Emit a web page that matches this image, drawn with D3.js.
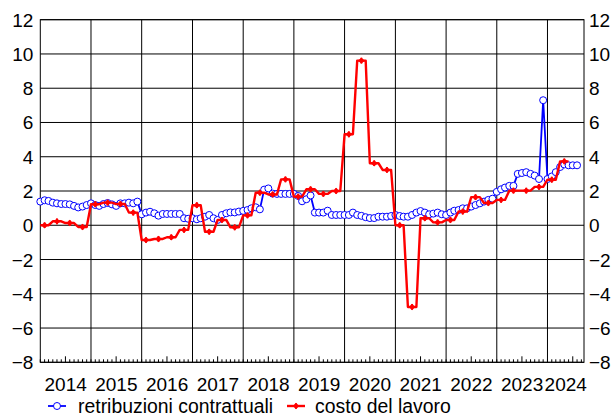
<!DOCTYPE html>
<html>
<head>
<meta charset="utf-8">
<script src="https://cdn.jsdelivr.net/npm/d3@7"></script>
<style>
  body { margin: 0; background: #fff; }
  svg { display: block; font-family: "Liberation Sans", Arial, sans-serif; }
</style>
</head>
<body>
<script>
// monthly series, Jan 2014 .. Aug 2024
var retribuzioni = [
  1.38, 1.46, 1.42, 1.32, 1.28, 1.24, 1.24, 1.22, 1.13, 1.04, 1.09, 1.18,   // 2014
  1.28, 1.18, 1.13, 1.24, 1.30, 1.22, 1.13, 1.28, 1.28, 1.32, 1.28, 1.38,   // 2015
  0.64, 0.74, 0.79, 0.70, 0.56, 0.66, 0.66, 0.66, 0.66, 0.66, 0.41, 0.38,   // 2016
  0.41, 0.35, 0.41, 0.50, 0.60, 0.41, 0.31, 0.60, 0.70, 0.75, 0.75, 0.80,   // 2017
  0.84, 0.89, 0.99, 1.05, 0.93, 2.08, 2.15, 1.85, 1.83, 1.83, 1.83, 1.83,   // 2018
  1.83, 1.71, 1.40, 1.52, 1.74, 0.74, 0.74, 0.74, 0.85, 0.60, 0.60, 0.60,   // 2019
  0.60, 0.60, 0.74, 0.60, 0.55, 0.47, 0.42, 0.42, 0.50, 0.50, 0.50, 0.54,   // 2020
  0.60, 0.54, 0.50, 0.50, 0.60, 0.74, 0.83, 0.74, 0.64, 0.68, 0.74, 0.64,   // 2021
  0.60, 0.74, 0.85, 0.89, 0.99, 0.99, 1.09, 1.18, 1.28, 1.38, 1.48, 1.55,   // 2022
  1.95, 2.10, 2.20, 2.30, 2.30, 3.00, 3.05, 3.10, 3.00, 2.90, 2.70, 7.30,   // 2023
  2.70, 2.85, 3.10, 3.40, 3.55, 3.50, 3.50, 3.50                            // 2024
];

// quarterly series, Q1 2014 .. Q2 2024 (each value covers its three months)
var costoLavoro = [
  0.00, 0.23, 0.13, -0.10,
  1.23, 1.32, 1.24, 0.74,
  -0.86, -0.80, -0.70, -0.27,
  1.17, -0.38, 0.31, -0.12,
  0.58, 1.90, 1.80, 2.68,
  1.67, 2.10, 1.83, 2.00,
  5.31, 9.61, 3.62, 3.23,
  0.00, -4.77, 0.41, 0.17,
  0.31, 0.80, 1.64, 1.30,
  1.48, 2.02, 2.02, 2.24,
  2.66, 3.73
];

var yTicks = [-8, -6, -4, -2, 0, 2, 4, 6, 8, 10, 12];
var yearLabels = ["2014", "2015", "2016", "2017", "2018", "2019", "2020", "2021", "2022", "2023", "2024"];
var seriesNames = ["retribuzioni contrattuali", "costo del lavoro"];

(function() {
    var W = 616, H = 417;
    var mLeft = 40.3, mRight = 584, mTop = 19.7, mBottom = 362.3;

    var start = new Date(2014, 0, 1);
    var end = new Date(2024, 8, 20);

    var x = d3.scaleTime().domain([start, end]).range([mLeft, mRight]);
    var y = d3.scaleLinear().domain([-8, 12]).range([mBottom, mTop]);

    var svg = d3.select("body").append("svg")
        .attr("width", W)
        .attr("height", H);

    var fmt = function(v) { return v < 0 ? "\u2212" + Math.abs(v) : String(v); };

    // grid
    var years = d3.timeYear.range(d3.timeYear.offset(start, 1), end);
    svg.append("g").selectAll("line")
        .data(years).enter().append("line")
        .attr("x1", function(d) { return x(d); })
        .attr("x2", function(d) { return x(d); })
        .attr("y1", mTop).attr("y2", mBottom)
        .attr("stroke", "#000").attr("stroke-width", 1);

    svg.append("g").selectAll("line")
        .data(yTicks).enter().append("line")
        .attr("x1", mLeft).attr("x2", mRight)
        .attr("y1", function(d) { return y(d); })
        .attr("y2", function(d) { return y(d); })
        .attr("stroke", "#000").attr("stroke-width", 1);

    // monthly minor ticks on the bottom axis
    var allMonths = d3.timeMonth.range(start, end);
    svg.append("g").selectAll("line")
        .data(allMonths).enter().append("line")
        .attr("x1", function(d) { return x(d); })
        .attr("x2", function(d) { return x(d); })
        .attr("y1", mBottom)
        .attr("y2", function(d) { return mBottom - (d.getMonth() === 6 ? 6 : 3); })
        .attr("stroke", "#000").attr("stroke-width", 1);

    // frame
    svg.append("rect")
        .attr("x", mLeft).attr("y", mTop)
        .attr("width", mRight - mLeft).attr("height", mBottom - mTop)
        .attr("fill", "none").attr("stroke", "#000").attr("stroke-width", 1);

    // y labels, both sides
    svg.append("g").selectAll("text")
        .data(yTicks).enter().append("text")
        .attr("x", mLeft - 7).attr("y", function(d) { return y(d) + 7; })
        .attr("text-anchor", "end")
        .attr("font-size", 19)
        .text(fmt);
    svg.append("g").selectAll("text")
        .data(yTicks).enter().append("text")
        .attr("x", mRight + 5).attr("y", function(d) { return y(d) + 7; })
        .attr("text-anchor", "start")
        .attr("font-size", 19)
        .text(fmt);

    // year labels centred in each visible year
    svg.append("g").selectAll("text")
        .data(yearLabels).enter().append("text")
        .attr("x", function(d) {
            var a = new Date(+d, 0, 1), b = new Date(+d + 1, 0, 1);
            if (b > end) b = end;
            return (x(a) + x(b)) / 2;
        })
        .attr("y", 390.5)
        .attr("text-anchor", "middle")
        .attr("font-size", 19)
        .text(function(d) { return d; });

    // blue series
    var bluePts = retribuzioni.map(function(v, i) {
        return { date: d3.timeMonth.offset(start, i), v: v };
    });
    var line = d3.line()
        .x(function(d) { return x(d.date); })
        .y(function(d) { return y(d.v); });

    svg.append("path")
        .datum(bluePts)
        .attr("fill", "none")
        .attr("stroke", "#0000ff")
        .attr("stroke-width", 1.8)
        .attr("d", line);

    svg.append("g").selectAll("circle")
        .data(bluePts).enter().append("circle")
        .attr("cx", function(d) { return x(d.date); })
        .attr("cy", function(d) { return y(d.v); })
        .attr("r", 3.5)
        .attr("fill", "#fff")
        .attr("stroke", "#0000ff")
        .attr("stroke-width", 1);

    // red series: each quarter holds its value over three months
    var redPts = [];
    costoLavoro.forEach(function(v, q) {
        for (var m = 0; m < 3; m++) {
            redPts.push({ date: d3.timeMonth.offset(start, q * 3 + m), v: v });
        }
    });
    var redMarks = costoLavoro.map(function(v, q) {
        return { date: d3.timeMonth.offset(start, q * 3 + 1), v: v };
    });

    svg.append("path")
        .datum(redPts)
        .attr("fill", "none")
        .attr("stroke", "#ff0000")
        .attr("stroke-width", 2.4)
        .attr("stroke-linejoin", "round")
        .attr("d", line);

    var diamond = d3.symbol().type(d3.symbolDiamond2).size(26);
    var cross = d3.symbol().type(d3.symbolCross).size(18);
    var marks = svg.append("g").selectAll("g")
        .data(redMarks).enter().append("g")
        .attr("transform", function(d) { return "translate(" + x(d.date) + "," + y(d.v) + ")"; });
    marks.append("path").attr("d", diamond).attr("fill", "#ff0000");
    marks.append("path").attr("d", cross).attr("fill", "#ff0000");

    // legend
    var lg = svg.append("g").attr("transform", "translate(0,406)");
    lg.append("line").attr("x1", 48).attr("x2", 66).attr("y1", 0).attr("y2", 0)
        .attr("stroke", "#0000ff").attr("stroke-width", 1.8);
    lg.append("circle").attr("cx", 57).attr("cy", 0).attr("r", 3.5)
        .attr("fill", "#fff").attr("stroke", "#0000ff");
    lg.append("text").attr("x", 78).attr("y", 6.5).attr("font-size", 19.4).text(seriesNames[0]);

    lg.append("line").attr("x1", 287).attr("x2", 305).attr("y1", 0).attr("y2", 0)
        .attr("stroke", "#ff0000").attr("stroke-width", 2.4);
    lg.append("path").attr("transform", "translate(296,0)").attr("d", diamond).attr("fill", "#ff0000");
    lg.append("path").attr("transform", "translate(296,0)").attr("d", cross).attr("fill", "#ff0000");
    lg.append("text").attr("x", 315).attr("y", 6.5).attr("font-size", 19.4).text(seriesNames[1]);
})();
</script>
</body>
</html>
